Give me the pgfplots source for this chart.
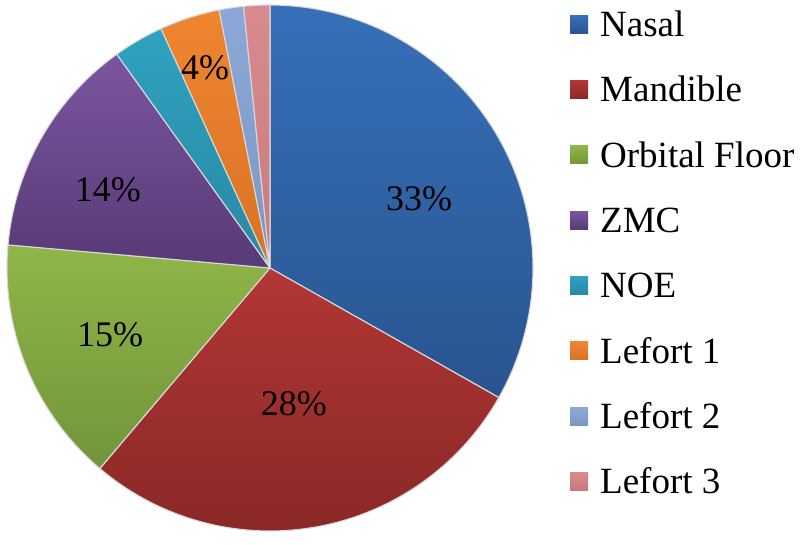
\documentclass[border=0pt]{standalone}
\usepackage{fontspec}
\setmainfont{Liberation Serif}
\usepackage{pgfplots}
\pgfplotsset{compat=1.18}

% shares (percent)
\def\vA{33.2}% Nasal
\def\vB{28.0}% Mandible
\def\vC{15.2}% Orbital Floor
\def\vD{13.7}% ZMC
\def\vE{3.1}%  NOE
\def\vF{3.7}%  Lefort 1
\def\vG{1.5}%  Lefort 2
\def\vH{1.6}%  Lefort 3

\pgfmathsetmacro\aA{90}
\pgfmathsetmacro\aB{\aA-3.6*\vA}
\pgfmathsetmacro\aC{\aB-3.6*\vB}
\pgfmathsetmacro\aD{\aC-3.6*\vC}
\pgfmathsetmacro\aE{\aD-3.6*\vD}
\pgfmathsetmacro\aF{\aE-3.6*\vE}
\pgfmathsetmacro\aG{\aF-3.6*\vF}
\pgfmathsetmacro\aH{\aG-3.6*\vG}
\pgfmathsetmacro\aI{\aH-3.6*\vH}

\definecolor{nasT}{HTML}{3670B8}\definecolor{nasB}{HTML}{295490}
\definecolor{manT}{HTML}{B23735}\definecolor{manB}{HTML}{8A2826}
\definecolor{orbT}{HTML}{90B548}\definecolor{orbB}{HTML}{72953A}
\definecolor{zmcT}{HTML}{7A55A0}\definecolor{zmcB}{HTML}{583A76}
\definecolor{noeT}{HTML}{2FA2C0}\definecolor{noeB}{HTML}{2888A3}
\definecolor{l1T}{HTML}{EE8530}\definecolor{l1B}{HTML}{D87226}
\definecolor{l2T}{HTML}{8DA8D8}\definecolor{l2B}{HTML}{7C96C4}
\definecolor{l3T}{HTML}{D98A8E}\definecolor{l3B}{HTML}{C77A7E}
\definecolor{edge}{HTML}{D8D8D8}

\begin{document}
\begin{tikzpicture}
\begin{axis}[
  at={(270pt,277pt)}, anchor=origin,
  x=263pt, y=263pt,
  xmin=-1.01, xmax=1.01, ymin=-1.01, ymax=1.01,
  hide axis, clip=false,
  legend cell align=left,
  legend image code/.code={\fill[#1,draw=none] (0pt,-9pt) rectangle (18pt,9pt);},
  legend style={at={(axis cs:1.1407,0.985)}, anchor=north west,
    draw=none, fill=none, inner sep=0pt,
    font=\fontsize{37}{44}\selectfont,
    row sep=34.8pt, column sep=12pt,
    nodes={inner sep=0pt, text height=27.5pt, text depth=3pt}},
  every axis plot/.append style={draw=edge, line width=1.1pt, line join=round},
]
\addplot[top color=nasT, bottom color=nasB, domain=\aA:\aB, samples=80, variable=\t] ({cos(\t)},{sin(\t)}) -- (axis cs:0,0) -- cycle;
\addlegendentry{Nasal}
\addplot[top color=manT, bottom color=manB, domain=\aB:\aC, samples=70, variable=\t] ({cos(\t)},{sin(\t)}) -- (axis cs:0,0) -- cycle;
\addlegendentry{Mandible}
\addplot[top color=orbT, bottom color=orbB, domain=\aC:\aD, samples=40, variable=\t] ({cos(\t)},{sin(\t)}) -- (axis cs:0,0) -- cycle;
\addlegendentry{Orbital Floor}
\addplot[top color=zmcT, bottom color=zmcB, domain=\aD:\aE, samples=40, variable=\t] ({cos(\t)},{sin(\t)}) -- (axis cs:0,0) -- cycle;
\addlegendentry{ZMC}
\addplot[top color=noeT, bottom color=noeB, domain=\aE:\aF, samples=12, variable=\t] ({cos(\t)},{sin(\t)}) -- (axis cs:0,0) -- cycle;
\addlegendentry{NOE}
\addplot[top color=l1T, bottom color=l1B, domain=\aF:\aG, samples=12, variable=\t] ({cos(\t)},{sin(\t)}) -- (axis cs:0,0) -- cycle;
\addlegendentry{Lefort 1}
\addplot[top color=l2T, bottom color=l2B, domain=\aG:\aH, samples=8, variable=\t] ({cos(\t)},{sin(\t)}) -- (axis cs:0,0) -- cycle;
\addlegendentry{Lefort 2}
\addplot[top color=l3T, bottom color=l3B, domain=\aH:\aI, samples=8, variable=\t] ({cos(\t)},{sin(\t)}) -- (axis cs:0,0) -- cycle;
\addlegendentry{Lefort 3}

\begin{scope}[font=\fontsize{36}{43}\selectfont]
\node at (axis cs:0.567,0.262) {33\%};
\node at (axis cs:0.091,-0.517) {28\%};
\node at (axis cs:-0.608,-0.255) {15\%};
\node at (axis cs:-0.616,0.297) {14\%};
\node at (axis cs:-0.247,0.760) {4\%};
\end{scope}
\end{axis}
\pgfresetboundingbox
\path (0pt,0pt) rectangle (800pt,545pt);
\end{tikzpicture}
\end{document}
